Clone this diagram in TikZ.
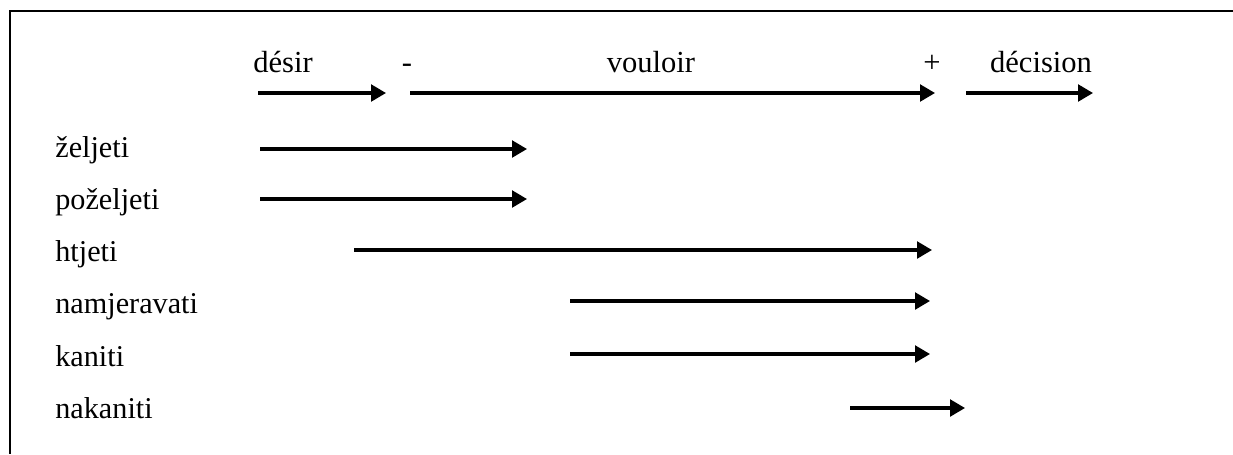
\documentclass[tikz,border=0pt]{standalone}
\usepackage{fontspec}
\setmainfont{Liberation Serif}
\usetikzlibrary{positioning, arrows.meta}

\begin{document}
\begin{tikzpicture}[
			x=0.02cm,
			y=-0.02cm,
			node distance=1.046cm,
			on grid,
			word/.style={
				anchor=base west,
				inner sep=0pt,
				font=\fontsize{17.2}{20}\selectfont
			},
			pole/.style={
				anchor=base,
				inner sep=0pt,
				font=\fontsize{17.4}{20}\selectfont
			},
			span/.style={
				-{Triangle[length=8.5pt, width=9.5pt]},
				line width=1.75pt
			},
			frame/.style={
				line width=1.7pt
			}
			]
			\useasboundingbox (0,0) rectangle (1233,454);
			
			% Frame
			\coordinate (frame-tr) at (1233,11);
			\coordinate (frame-tl) at (10,11);
			\coordinate (frame-bl) at (10,454);
			\draw[frame] (frame-tr) -- (frame-tl) -- (frame-bl);
			
			% Scale
			\node[pole] (desir) at (283,72) {désir};
			\node[pole] (minus) at (407,72) {-};
			\node[pole] (vouloir) at (651,72) {vouloir};
			\node[pole] (plus) at (932,72) {+};
			\node[pole] (decision) at (1041,72) {décision};
			
			% Verbs
			\node[word] (zeljeti) at (55,157) {željeti};
			\node[below=of zeljeti.base west, word] (pozeljeti) {poželjeti};
			\node[below=of pozeljeti.base west, word] (htjeti) {htjeti};
			\node[below=of htjeti.base west, word] (namjeravati) {namjeravati};
			\node[below=of namjeravati.base west, word] (kaniti) {kaniti};
			\node[below=of kaniti.base west, word] (nakaniti) {nakaniti};
			
			% Ends of the spans
			\coordinate (desir-s) at (258,93);
			\coordinate (desir-e) at (386,93);
			\coordinate (vouloir-s) at (410,93);
			\coordinate (vouloir-e) at (935,93);
			\coordinate (decision-s) at (966,93);
			\coordinate (decision-e) at (1093,93);
			\coordinate (zeljeti-s) at (260,149);
			\coordinate (zeljeti-e) at (527,149);
			\coordinate (pozeljeti-s) at (260,199);
			\coordinate (pozeljeti-e) at (527,199);
			\coordinate (htjeti-s) at (354,250);
			\coordinate (htjeti-e) at (932,250);
			\coordinate (namjeravati-s) at (570,301);
			\coordinate (namjeravati-e) at (930,301);
			\coordinate (kaniti-s) at (570,354);
			\coordinate (kaniti-e) at (930,354);
			\coordinate (nakaniti-s) at (850,408);
			\coordinate (nakaniti-e) at (965,408);
			
			% Spans
			\draw[span] (desir-s) -- (desir-e);
			\draw[span] (vouloir-s) -- (vouloir-e);
			\draw[span] (decision-s) -- (decision-e);
			\draw[span] (zeljeti-s) -- (zeljeti-e);
			\draw[span] (pozeljeti-s) -- (pozeljeti-e);
			\draw[span] (htjeti-s) -- (htjeti-e);
			\draw[span] (namjeravati-s) -- (namjeravati-e);
			\draw[span] (kaniti-s) -- (kaniti-e);
			\draw[span] (nakaniti-s) -- (nakaniti-e);
		\end{tikzpicture}
\end{document}
